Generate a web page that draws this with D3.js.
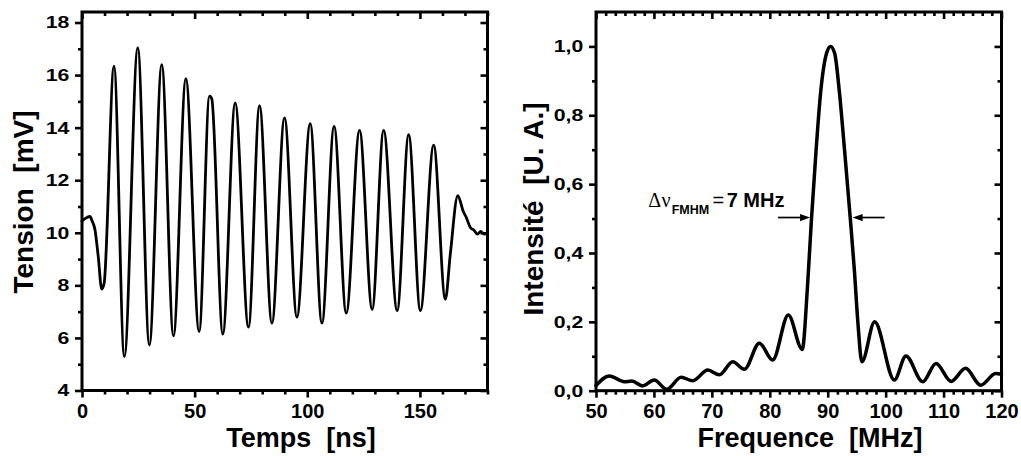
<!DOCTYPE html>
<html><head><meta charset="utf-8">
<script src="https://cdn.jsdelivr.net/npm/d3@7"></script>
<style>
html,body{margin:0;padding:0;background:#fff;}
svg{display:block;background:#fff;}
text{font-family:"Liberation Sans",Arial,sans-serif;font-weight:bold;fill:#000;}
</style></head><body>
<svg id="chart" width="1021" height="456"></svg>
<script>
// ---------- Left panel: Tension vs Temps ----------
const tempsNs = [0, 1.5, 3.5, 4.5, 5.8, 7.2, 8.75, 9.8, 14.2, 18.8, 24.75, 29.9, 35.4, 40.6, 46.1, 52.0,
  56.6, 57.6, 62.5, 68.0, 73.9, 78.8, 84.3, 89.9, 95.4, 101.3, 106.5, 111.9, 117.3, 123.2, 128.8,
  133.9, 139.9, 145.0, 150.2, 156.1, 161.3, 163.5, 166.8, 169.3, 170.5, 172.4, 174, 175.5, 177, 178.5, 180];
const tensionMv = [10.45, 10.55, 10.62, 10.45, 10.1, 9.1, 7.86, 8.06, 16.34, 5.29, 17.04, 5.73, 16.4, 6.08, 15.86, 6.24,
  15.2, 15.1, 6.15, 14.94, 6.41, 14.84, 6.56, 14.37, 6.79, 14.15, 6.56, 14.05, 6.94, 13.9, 7.09,
  13.9, 7.04, 13.73, 7.04, 13.33, 7.47, 9.2, 11.41, 10.8, 10.6, 10.2, 10.1, 9.95, 10.05, 9.95, 10.0];
const leftXTicks = [0, 50, 100, 150];
const leftXMinor = [10, 20, 30, 40, 60, 70, 80, 90, 110, 120, 130, 140, 160, 170, 180];
const leftYTicks = [4, 6, 8, 10, 12, 14, 16, 18];
const leftYMinor = [5, 7, 9, 11, 13, 15, 17];

// ---------- Right panel: Intensité vs Frequence ----------
const freqMHz = [50, 52.3, 54.9, 56.2, 58.05, 60.05, 62.2, 64.7, 66.7, 69.3, 71.3, 73.6, 75.6, 78.2, 80.5, 83.2,
  85.6, 86.5, 87.2, 88.0, 88.8, 89.8, 90.5, 91.2, 92.0, 92.9, 93.9, 94.6, 95.2, 95.9, 98.1, 101.5,
  103.5, 106.4, 108.7, 111.3, 113.8, 116.4, 119.0, 120];
const intensite = [0.015, 0.043, 0.026, 0.028, 0.014, 0.031, 0.004, 0.039, 0.029, 0.06, 0.046, 0.084, 0.062, 0.138, 0.089, 0.22,
  0.12, 0.30, 0.5, 0.70, 0.87, 0.98, 1.0, 0.98, 0.87, 0.70, 0.5, 0.35, 0.2, 0.084, 0.2, 0.031,
  0.101, 0.026, 0.079, 0.027, 0.065, 0.016, 0.05, 0.048];
const rightXTicks = [50, 60, 70, 80, 90, 100, 110, 120];
const rightYTicks = [0, 0.2, 0.4, 0.6, 0.8, 1.0];
const rightYMinor = [0.1, 0.3, 0.5, 0.7, 0.9];
const rightXMinorPerInterval = 5;
const fwhmEdges = [86.95, 94.3];   // MHz, where the arrows touch the peak
const fwhmLevel = 0.503;

const svg = d3.select("#chart");

function panel(o) {
  const g = svg.append("g");
  const x = d3.scaleLinear().domain(o.xDomain).range([o.x0, o.x1]);
  const y = d3.scaleLinear().domain(o.yDomain).range([o.y1, o.y0]);
  const MAJ = 7, MIN = 4, TW = 2.6;
  function style(sel) {
    sel.select(".domain").remove();
    sel.selectAll(".tick line").attr("stroke", "#000").attr("stroke-width", TW);
  }
  // bottom
  g.append("g").attr("transform", `translate(0,${o.y1})`)
    .call(d3.axisBottom(x).tickValues(o.xTicks).tickSize(MAJ).tickPadding(6).tickFormat(o.xFmt))
    .call(style)
    .call(s => s.selectAll("text").attr("font-size", 20).attr("font-family", "Liberation Sans, Arial, sans-serif").attr("font-weight", "bold"));
  g.append("g").attr("transform", `translate(0,${o.y1})`)
    .call(d3.axisBottom(x).tickValues(o.xMinor).tickSize(MIN).tickFormat(""))
    .call(style);
  // top (inward)
  g.append("g").attr("transform", `translate(0,${o.y0})`)
    .call(d3.axisTop(x).tickValues(o.xTicks).tickSize(-MAJ).tickFormat(""))
    .call(style);
  g.append("g").attr("transform", `translate(0,${o.y0})`)
    .call(d3.axisTop(x).tickValues(o.xMinor).tickSize(-MIN).tickFormat(""))
    .call(style);
  // left
  g.append("g").attr("transform", `translate(${o.x0},0)`)
    .call(d3.axisLeft(y).tickValues(o.yTicks).tickSize(MAJ).tickFormat(o.yFmt))
    .call(style)
    .call(s => s.selectAll("text").attr("font-size", 17).attr("font-family", "Liberation Sans, Arial, sans-serif")
      .attr("font-weight", "bold").attr("x", -10.2).attr("transform", "scale(1.25,1)"));
  g.append("g").attr("transform", `translate(${o.x0},0)`)
    .call(d3.axisLeft(y).tickValues(o.yMinor).tickSize(MIN).tickFormat(""))
    .call(style);
  // right (inward)
  g.append("g").attr("transform", `translate(${o.x1},0)`)
    .call(d3.axisRight(y).tickValues(o.yTicks).tickSize(-MAJ).tickFormat(""))
    .call(style);
  g.append("g").attr("transform", `translate(${o.x1},0)`)
    .call(d3.axisRight(y).tickValues(o.yMinor).tickSize(-MIN).tickFormat(""))
    .call(style);
  // frame
  g.append("rect").attr("x", o.x0).attr("y", o.y0).attr("width", o.x1 - o.x0).attr("height", o.y1 - o.y0)
    .attr("fill", "none").attr("stroke", "#000").attr("stroke-width", 3);
  // curve
  const pts = o.xs.map((v, i) => [v, o.ys[i]]);
  g.append("path").datum(pts)
    .attr("d", d3.line().x(d => x(d[0])).y(d => y(d[1])).curve(d3.curveMonotoneX))
    .attr("fill", "none").attr("stroke", "#000").attr("stroke-width", o.lw)
    .attr("stroke-linejoin", "round").attr("stroke-linecap", "round");
  // titles
  g.append("text").attr("x", o.xtPos[0]).attr("y", o.xtPos[1]).attr("text-anchor", "middle")
    .attr("font-size", 27).text(o.xTitle);
  g.append("text").attr("transform", `translate(${o.ytPos[0]},${o.ytPos[1]}) rotate(-90)`)
    .attr("text-anchor", "middle").attr("font-size", 28).text(o.yTitle);
  return {g, x, y};
}

panel({
  x0: 82, x1: 487.5, y0: 12, y1: 390.5,
  xDomain: [0, 180], yDomain: [4, 18.4],
  xTicks: leftXTicks, xMinor: leftXMinor, yTicks: leftYTicks, yMinor: leftYMinor,
  xFmt: d3.format("d"), yFmt: d3.format("d"),
  xs: tempsNs, ys: tensionMv, lw: 2.8,
  xTitle: "Temps\u00a0\u00a0[ns]", xtPos: [301, 447],
  yTitle: "Tension\u00a0\u00a0[mV]", ytPos: [33, 202]
});

const rxMinor = [];
for (let i = 0; i < rightXTicks.length - 1; i++) {
  const a = rightXTicks[i], b = rightXTicks[i + 1];
  for (let k = 1; k <= rightXMinorPerInterval; k++) rxMinor.push(a + (b - a) * k / (rightXMinorPerInterval + 1));
}

const R = panel({
  x0: 596, x1: 1001.5, y0: 12, y1: 390.7,
  xDomain: [50, 120], yDomain: [0, 1.1],
  xTicks: rightXTicks, xMinor: rxMinor, yTicks: rightYTicks, yMinor: rightYMinor,
  xFmt: d3.format("d"), yFmt: v => d3.format(".1f")(v).replace(".", ","),
  xs: freqMHz, ys: intensite, lw: 3.5,
  xTitle: "Frequence\u00a0\u00a0[MHz]", xtPos: [810, 447],
  yTitle: "Intensit\u00e9\u00a0\u00a0[U.\u00a0A.]", ytPos: [543, 209]
});

// ---------- FWHM annotation ----------
const ann = svg.append("text").attr("y", 206.7);
ann.append("tspan").attr("x", 648.3).attr("font-family", "Liberation Serif, Times New Roman, serif")
  .attr("font-weight", "normal").attr("font-size", 20).text("\u0394");
ann.append("tspan").attr("x", 661.5).attr("font-family", "Liberation Serif, Times New Roman, serif")
  .attr("font-weight", "normal").attr("font-size", 20).text("\u03bd");
ann.append("tspan").attr("x", 671.7).attr("y", 214.3).attr("font-size", 12.5).text("FMHM");
ann.append("tspan").attr("x", 712.5).attr("y", 206.7).attr("font-weight", "normal").attr("font-size", 20).text("=");
ann.append("tspan").attr("x", 726.7).attr("y", 206.7).attr("font-size", 20).text("7 MHz");

const ay = R.y(fwhmLevel);
const arrowLen = 32, headL = 10, headW = 3.6;
function arrow(tipX, dir) {
  const tailX = tipX - dir * arrowLen;
  svg.append("line").attr("x1", tailX).attr("y1", ay).attr("x2", tipX - dir * headL * 0.6).attr("y2", ay)
    .attr("stroke", "#000").attr("stroke-width", 1.7);
  svg.append("path")
    .attr("d", `M${tipX},${ay} L${tipX - dir * headL},${ay - headW} L${tipX - dir * headL},${ay + headW} Z`)
    .attr("fill", "#000");
}
arrow(R.x(fwhmEdges[0]), 1);
arrow(R.x(fwhmEdges[1]), -1);
</script>
</body></html>
